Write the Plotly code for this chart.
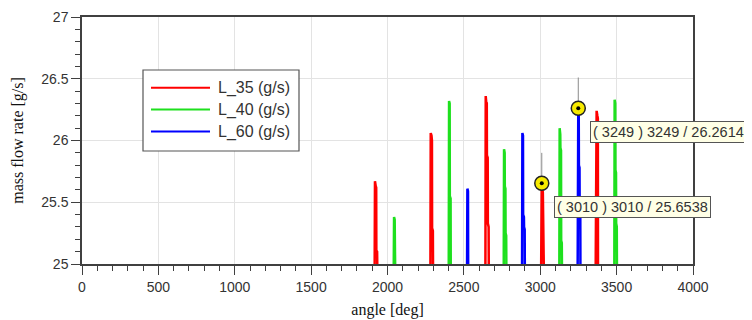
import plotly.graph_objects as go

# ---- data ----
series_names = ["L_35 (g/s)", "L_40 (g/s)", "L_60 (g/s)"]
series_colors = ["#ff0000", "#1ee01e", "#0000ff"]

L35_angle = [1916, 1918, 1923, 1926, 1927, 1932, 1933, None,
             2281, 2283, 2288, 2291, 2292, 2297, 2298, None,
             2641, 2643, 2647, 2650, 2651, 2656, 2657, 2662, 2663, None,
             3006, 3010, 3014, 3017, 3018, 3022, 3023, None,
             3363, 3365, 3369, 3374, 3377, 3378]
L35_rate = [25, 25.67, 25.63, 25.62, 25.11, 25.10, 25, None,
            25, 26.06, 26.04, 26.00, 25.29, 25.27, 25, None,
            25, 26.36, 26.30, 26.30, 25.88, 25.86, 25.33, 25.30, 25, None,
            25, 25.6538, 25.60, 25.58, 25.14, 25.12, 25, None,
            25, 26.20, 26.24, 26.20, 26.18, 25]

L40_angle = [2041, 2043, 2047, 2049, 2050, None,
             2401, 2403, 2407, 2408, 2413, 2414, None,
             2761, 2763, 2767, 2768, 2772, 2773, 2777, 2778, None,
             3125, 3127, 3131, 3132, 3136, 3137, 3141, 3142, None,
             3485, 3487, 3491, 3492, 3496, 3497, 3501, 3502]
L40_rate = [25, 25.38, 25.36, 25.10, 25, None,
            25, 26.32, 26.30, 25.55, 25.53, 25, None,
            25, 25.93, 25.90, 25.63, 25.61, 25.25, 25.23, 25, None,
            25, 26.10, 26.05, 25.94, 25.92, 25.19, 25.17, 25, None,
            25, 26.33, 26.30, 25.76, 25.74, 25.33, 25.30, 25]

L60_angle = [2521, 2523, 2527, 2528, None,
             2881, 2883, 2887, 2888, 2893, 2894, 2898, 2899, None,
             3245, 3249, 3252, 3253, 3257, 3258, 3262, 3263]
L60_rate = [25, 25.61, 25.59, 25, None,
            25, 26.06, 26.04, 25.40, 25.38, 25.30, 25.28, 25, None,
            25, 26.2614, 26.20, 25.80, 25.78, 25.49, 25.47, 25]

cursor_angle = [3010, 3249]
cursor_value = [25.6538, 26.2614]
cursor_line_top = [25.90, 26.51]
cursor_labels = ["( 3010 ) 3010 / 25.6538", "( 3249 ) 3249 / 26.2614"]

x_ticks = [0, 500, 1000, 1500, 2000, 2500, 3000, 3500, 4000]
y_ticks = [25, 25.5, 26, 26.5, 27]
y_tick_text = ["25", "25.5", "26", "26.5", "27"]

# ---- figure ----
fig = go.Figure()
all_angles = [L35_angle, L40_angle, L60_angle]
all_rates = [L35_rate, L40_rate, L60_rate]
for name, col, xs, ys in zip(series_names, series_colors, all_angles, all_rates):
    fig.add_trace(go.Scatter(x=xs, y=ys, mode="lines", name=name,
                             line=dict(color=col, width=2.5),
                             connectgaps=False, showlegend=False))

# cursor lines
for a, v, t in zip(cursor_angle, cursor_value, cursor_line_top):
    fig.add_trace(go.Scatter(x=[a, a], y=[v, t], mode="lines",
                             line=dict(color="#8a8a8a", width=1),
                             showlegend=False, hoverinfo="skip"))
# cursor markers
fig.add_trace(go.Scatter(x=cursor_angle, y=cursor_value, mode="markers",
                         marker=dict(size=14, color="#f7ea00",
                                     line=dict(color="#222222", width=1.5)),
                         showlegend=False, cliponaxis=False))
fig.add_trace(go.Scatter(x=cursor_angle, y=cursor_value, mode="markers",
                         marker=dict(size=4, color="#000000"),
                         showlegend=False, cliponaxis=False))

# cursor labels
for a, v, txt in zip(cursor_angle, cursor_value, cursor_labels):
    fig.add_annotation(x=a, y=v, xref="x", yref="y", text=txt, showarrow=True,
                       arrowcolor="rgba(0,0,0,0)", ax=12, ay=24,
                       xanchor="left", yanchor="middle",
                       font=dict(family="Liberation Sans, Arial", size=14.5, color="#333333"),
                       bgcolor="#ffffe6", bordercolor="#555555", borderwidth=1,
                       borderpad=2)

# manual legend (box, line samples, text) placed in plot-area fractions
def px_x(p):
    return (p - 82) / 611.0

def px_y(p):
    return (264 - p) / 247.0

fig.add_shape(type="rect", xref="paper", yref="paper",
              x0=px_x(143), x1=px_x(299), y0=px_y(151), y1=px_y(70),
              fillcolor="white", line=dict(color="#555555", width=1.2), layer="above")
leg_rows = [87.7, 109.5, 131.5]
for name, col, r in zip(series_names, series_colors, leg_rows):
    fig.add_shape(type="line", xref="paper", yref="paper",
                  x0=px_x(151), x1=px_x(210), y0=px_y(r), y1=px_y(r),
                  line=dict(color=col, width=2), layer="above")
    fig.add_annotation(xref="paper", yref="paper", x=px_x(216), y=px_y(r),
                       text=name, showarrow=False, xanchor="left", yanchor="middle",
                       font=dict(family="Liberation Sans, Arial", size=16, color="#333333"))

axis_common = dict(showline=True, linecolor="#404040", linewidth=1.5, mirror=True,
                   ticks="outside", ticklen=9, tickcolor="#404040", tickwidth=1,
                   showgrid=True, gridcolor="#e3e3e3", gridwidth=1, zeroline=False,
                   automargin=False,
                   tickfont=dict(family="Liberation Sans, Arial", size=14, color="#333333"))

fig.update_xaxes(range=[0, 4000], tickvals=x_ticks, **axis_common,
                 minor=dict(dtick=100, ticklen=5, ticks="outside", tickcolor="#404040",
                            showgrid=False),
                 title=dict(text="angle [deg]", standoff=10,
                            font=dict(family="Liberation Serif, Times New Roman", size=16,
                                      color="#111111")))
fig.update_yaxes(range=[25, 27], tickvals=y_ticks, ticktext=y_tick_text, **axis_common,
                 minor=dict(dtick=0.1, ticklen=5, ticks="outside", tickcolor="#404040",
                            showgrid=False),
                 title=dict(text="mass flow rate [g/s]", standoff=14,
                            font=dict(family="Liberation Serif, Times New Roman", size=16,
                                      color="#111111")))

# page body has an 8px default margin, so the figure is offset by 8px
fig.update_layout(width=752, height=320,
                  margin=dict(l=74, r=67, t=9, b=64),
                  plot_bgcolor="white", paper_bgcolor="white",
                  showlegend=False)

fig.write_html("out.html")
